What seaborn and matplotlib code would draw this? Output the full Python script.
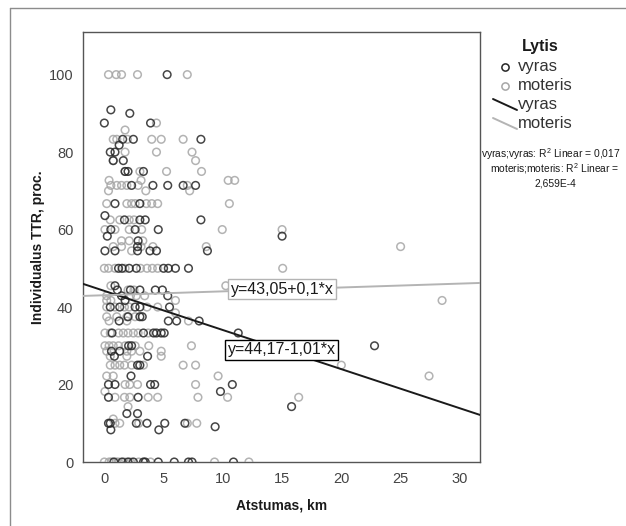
import numpy as np
import pandas as pd
import matplotlib
matplotlib.use("Agg")
import matplotlib.pyplot as plt
from matplotlib.lines import Line2D
import seaborn as sns

# Distance to school (km) and individual TTR (%) for boys ("vyras")
vyras_km = [5.3, 0.55, 2.15, 0.0, 3.9, 1.55, 2.45, 8.15, 1.25, 0.5, 0.9, 0.75, 1.6,
            1.75, 2.0, 3.3, 2.3, 4.1, 5.35, 6.65, 7.7, 0.9, 3.0, 0.05, 1.7, 3.0, 3.45,
            8.15, 0.55, 2.6, 4.55, 0.25, 15.0, 2.85, 2.8, 0.05, 0.9, 2.8, 3.85, 4.4,
            8.7, 1.2, 1.5, 2.1, 2.7, 5.0, 5.4, 6.0, 7.1, 0.9, 1.1, 2.2, 3.0, 4.3, 4.9,
            1.45, 5.35, 1.75, 0.5, 1.3, 2.6, 3.0, 5.5, 2.0, 3.0, 3.2, 1.25, 5.4, 6.1,
            8.0, 0.65, 3.3, 4.15, 4.4, 4.8, 5.05, 11.3, 2.05, 2.3, 22.8, 0.6, 1.3,
            0.85, 3.65, 2.8, 3.0, 2.25, 0.35, 0.9, 3.9, 4.25, 10.8, 9.8, 0.35, 2.85,
            15.8, 1.9, 2.8, 0.35, 0.5, 2.7, 3.6, 5.1, 6.8, 9.35, 0.55, 4.6,
            0.8, 1.5, 2.0, 2.45, 3.3, 3.45, 4.55, 5.9, 7.1, 7.4, 10.9]
vyras_ttr = [100, 90.9, 90.0, 87.5, 87.5, 83.3, 83.3, 83.3, 81.8, 80, 80, 77.8, 77.8,
             75, 75, 75, 71.4, 71.4, 71.4, 71.4, 71.4, 66.7, 66.7, 63.6, 62.5, 62.5, 62.5,
             62.5, 60, 60, 60, 58.3, 58.3, 57.1, 55.6, 54.5, 54.5, 54.5, 54.5, 54.5,
             54.5, 50, 50, 50, 50, 50, 50, 50, 50, 45.5, 44.4, 44.4, 44.4, 44.4, 44.4,
             42.9, 42.9, 41.7, 40, 40, 40, 40, 40, 37.5, 37.5, 37.5, 36.4, 36.4, 36.4,
             36.4, 33.3, 33.3, 33.3, 33.3, 33.3, 33.3, 33.3, 30, 30, 30, 28.6, 28.6,
             27.3, 27.3, 25, 25, 22.2, 20, 20, 20, 20, 20, 18.2, 16.7, 16.7,
             14.3, 12.5, 12.5, 10, 10, 10, 10, 10, 10, 9.1, 8.3, 8.3,
             0, 0, 0, 0, 0, 0, 0, 0, 0, 0, 0]

# Distance to school (km) and individual TTR (%) for girls ("moteris")
moteris_km = [0.35, 1.0, 1.45, 2.8, 7.0, 4.4, 1.75, 0.75, 1.05, 1.95, 4.0, 4.8, 6.65,
              1.75, 4.4, 7.4, 0.75, 7.7, 1.75, 3.0, 5.25, 8.2, 0.4, 3.1, 10.45, 11.0,
              0.55, 1.05, 1.45, 1.9, 2.85, 7.0, 0.35, 3.5, 7.2, 0.2, 1.9, 2.3, 2.6, 3.55,
              4.0, 4.5, 10.55, 0.5, 1.3, 2.1, 2.5, 0.05, 0.9, 2.1, 3.15, 9.95, 15.0,
              1.45, 2.1, 3.25, 0.75, 1.45, 3.1, 4.1, 8.6, 25.0, 2.3, 0.0, 0.35, 0.9, 1.75,
              3.05, 3.6, 4.05, 4.5, 15.05, 10.25, 0.55, 2.0, 2.5, 0.2, 2.2, 2.7, 3.4,
              0.2, 0.55, 6.0, 28.5, 0.2, 0.9, 1.7, 2.1, 3.6, 4.5, 6.0, 0.2, 1.05, 1.9,
              2.6, 0.4, 1.9, 7.1, 0.05, 0.5, 1.2, 1.6, 2.0, 2.45, 2.85, 3.7, 0.05, 0.4,
              0.75, 1.2, 1.75, 2.6, 3.75, 7.35, 0.2, 1.9, 2.3, 3.0, 4.8, 0.5, 1.9, 4.8,
              0.5, 0.9, 1.3, 1.7, 2.3, 3.3, 6.65, 7.7, 20.0, 0.2, 0.75, 9.6, 27.4, 1.75,
              2.15, 2.8, 7.7, 0.05, 0.9, 1.7, 2.15, 3.7, 4.5, 7.9, 10.4, 16.4, 2.0, 0.75,
              0.9, 1.3, 2.9, 7.0, 7.8, 0.0, 0.4, 0.6, 1.0, 1.2, 1.7, 2.2, 2.9, 3.9, 9.3,
              12.2]
moteris_ttr = [100, 100, 100, 100, 100, 87.5, 85.7, 83.3, 83.3, 83.3, 83.3, 83.3, 83.3,
               80, 80, 80, 77.8, 77.8, 75, 75, 75, 75, 72.7, 72.7, 72.7, 72.7,
               71.4, 71.4, 71.4, 71.4, 71.4, 71.4, 70, 70, 70, 66.7, 66.7, 66.7, 66.7, 66.7,
               66.7, 66.7, 66.7, 62.5, 62.5, 62.5, 62.5, 60, 60, 60, 60, 60, 60,
               57.1, 57.1, 57.1, 55.6, 55.6, 55.6, 55.6, 55.6, 55.6, 54.5, 50, 50, 50, 50,
               50, 50, 50, 50, 50, 45.5, 45.5, 44.4, 44.4, 42.9, 42.9, 42.9, 42.9,
               41.7, 41.7, 41.7, 41.7, 40, 40, 40, 40, 40, 40, 38.5, 37.5, 37.5, 37.5,
               37.5, 36.4, 36.4, 36.4, 33.3, 33.3, 33.3, 33.3, 33.3, 33.3, 33.3, 33.3, 30, 30,
               30, 30, 30, 30, 30, 30, 28.6, 28.6, 28.6, 28.6, 28.6, 27.3, 27.3, 27.3,
               25, 25, 25, 25, 25, 25, 25, 25, 25, 22.2, 22.2, 22.2, 22.2, 20,
               20, 20, 20, 18.2, 16.7, 16.7, 16.7, 16.7, 16.7, 16.7, 16.7, 16.7, 14.3, 11.1,
               10, 10, 10, 10, 10, 0, 0, 0, 0, 0, 0, 0, 0, 0, 0,
               0]

# Fitted linear models per group
groups = ["vyras", "moteris"]
intercepts = [44.17, 43.05]
slopes = [-1.01, 0.10]
r2_values = ["0,017", "2,659E-4"]

x_ticks = [0, 5, 10, 15, 20, 25, 30]
y_ticks = [0, 20, 40, 60, 80, 100]

point_colors = {"vyras": "#262626", "moteris": "#a6a6a6"}
line_colors = {"vyras": "#1a1a1a", "moteris": "#b4b4b4"}
box_edges = {"vyras": "#000000", "moteris": "#b4b4b4"}
label_pos = {"vyras": (14.95, 29.0), "moteris": (15.0, 44.6)}

df = pd.concat([
    pd.DataFrame({"km": vyras_km, "ttr": vyras_ttr, "Lytis": "vyras"}),
    pd.DataFrame({"km": moteris_km, "ttr": moteris_ttr, "Lytis": "moteris"}),
], ignore_index=True)

sns.set_style("white")
plt.rcParams["font.family"] = ["Liberation Sans", "DejaVu Sans"]
plt.rcParams["mathtext.fontset"] = "custom"
plt.rcParams["mathtext.rm"] = "Liberation Sans"

W, H = 626, 526
fig = plt.figure(figsize=(W / 100, H / 100), dpi=100)
fx = lambda px: px / W
fy = lambda py: 1 - py / H

ax = fig.add_axes([fx(83), fy(462), (480 - 83) / W, (462 - 32) / H])

# Girls drawn first, boys on top
for g in ["moteris", "vyras"]:
    sub = df[df["Lytis"] == g]
    sns.scatterplot(data=sub, x="km", y="ttr", ax=ax, marker="o", s=30,
                    color=point_colors[g], facecolor="none",
                    edgecolor=point_colors[g], linewidth=1.1, alpha=0.85,
                    legend=False, zorder=3)

ax.set_xlim(-1.8, 31.7)
ax.set_ylim(0, 111)


def fmt(v):
    s = f"{abs(v):.2f}".rstrip("0").rstrip(".")
    return s.replace(".", ",")


xx = np.array(ax.get_xlim())
for g, a, b in zip(groups, intercepts, slopes):
    ax.plot(xx, a + b * xx, color=line_colors[g], lw=1.4, zorder=4)
    sign = "+" if b >= 0 else "-"
    label = f"y={fmt(a)}{sign}{fmt(b)}*x"
    lx, ly = label_pos[g]
    ax.text(lx, ly, label, ha="center", va="center", fontsize=11.5, color="#1a1a1a",
            zorder=6,
            bbox=dict(boxstyle="square,pad=0.15", fc="white", ec=box_edges[g], lw=1.0))

ax.set_xticks(x_ticks)
ax.set_yticks(y_ticks)
ax.tick_params(direction="out", length=5, width=1, color="#555555",
               labelcolor="#444444", labelsize=10.5, pad=2)
for sp in ax.spines.values():
    sp.set_color("#555555")
    sp.set_linewidth(1.0)

ax.set_xlabel("Atstumas, km", fontsize=10, fontweight="bold", color="#1a1a1a")
ax.set_ylabel("Individualus TTR, proc.", fontsize=10, fontweight="bold", color="#1a1a1a")
ax.xaxis.set_label_coords(0.5, (462 - 499) / 430)
ax.yaxis.set_label_coords((45 - 83) / 397, 0.5)

# Legend block
fig.text(fx(540), fy(47), "Lytis", ha="center", va="center", fontsize=11.5,
         fontweight="bold", color="#1a1a1a")
legend_rows = [67, 86, 105, 124]
for i, g in enumerate(groups):
    y = legend_rows[i]
    fig.add_artist(Line2D([fx(505)], [fy(y)], marker="o", ls="none", ms=5.2,
                          mfc="none", mec=point_colors[g], mew=1.1,
                          transform=fig.transFigure))
    fig.text(fx(518), fy(y), g, ha="left", va="center", fontsize=12, color="#333333")
for i, g in enumerate(groups):
    y = legend_rows[2 + i]
    fig.add_artist(Line2D([fx(493), fx(517)], [fy(y - 6), fy(y + 5)],
                          color=line_colors[g], lw=1.4, transform=fig.transFigure))
    fig.text(fx(518), fy(y), g, ha="left", va="center", fontsize=12, color="#333333")

fig.text(fx(481), fy(154), f"vyras;vyras: R$^2$ Linear = {r2_values[0]}",
         ha="left", va="center", fontsize=7.4, color="#1a1a1a")
fig.text(fx(555), fy(169), "moteris;moteris: R$^2$ Linear =",
         ha="center", va="center", fontsize=7.4, color="#1a1a1a")
fig.text(fx(555), fy(183), r2_values[1],
         ha="center", va="center", fontsize=7.4, color="#1a1a1a")

# Outer chart frame
fig.add_artist(Line2D([fx(10), fx(10)], [fy(8), fy(530)], color="#8c8c8c", lw=1,
                      transform=fig.transFigure))
fig.add_artist(Line2D([fx(10), fx(630)], [fy(8), fy(8)], color="#8c8c8c", lw=1,
                      transform=fig.transFigure))

fig.savefig("out.png", dpi=100, facecolor="white")
